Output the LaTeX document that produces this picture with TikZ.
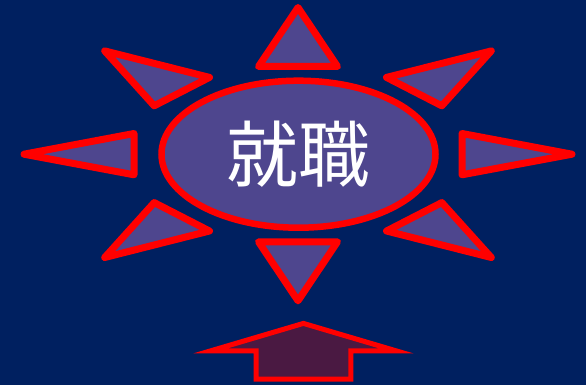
\documentclass[tikz,border=0pt]{standalone}
\usepackage{fontspec}
\newfontfamily\cjk{Noto Sans CJK JP}
\usetikzlibrary{shapes.geometric}
\definecolor{bgblue}{RGB}{0,32,96}
\definecolor{fillpurple}{RGB}{78,70,142}
\definecolor{arrowfill}{RGB}{74,25,66}
\definecolor{brightred}{RGB}{255,0,0}
\tikzset{
  ray/.style={draw=brightred, fill=fillpurple, line width=7pt, line join=round},
  hub/.style={ellipse, draw=brightred, fill=fillpurple, line width=6.5pt, minimum width=274pt, minimum height=147pt, inner sep=0pt, text=white},
  uparrow/.style={draw=brightred, fill=arrowfill, line width=5pt, line join=miter}
}
\begin{document}
\begin{tikzpicture}[x=1pt, y=-1pt]
\fill[bgblue] (0,0) rectangle (586,385);
\useasboundingbox (0,0) rectangle (586,385);
% rays
\draw[ray] (298,7.5) -- (337.5,66.5) -- (258.5,66.5) -- cycle;
\draw[ray] (298,300.8) -- (337.5,241.8) -- (258.5,241.8) -- cycle;
\draw[ray] (24,154.2) -- (134,133.5) -- (134,174.8) -- cycle;
\draw[ray] (572,154.2) -- (462,133.5) -- (462,174.8) -- cycle;
\draw[ray] (104.7,50.9) -- (209.5,77.4) -- (154.2,105.8) -- cycle;
\draw[ray] (491.3,50.9) -- (386.5,77.4) -- (441.8,105.8) -- cycle;
\draw[ray] (104.7,257.5) -- (209.5,231) -- (154.2,202.6) -- cycle;
\draw[ray] (491.3,257.5) -- (386.5,231) -- (441.8,202.6) -- cycle;
% centre
\node[hub] (centre) at (298.5,154.2) {\cjk\fontsize{72}{72}\selectfont 就職};
% bottom arrow
\draw[uparrow] (303.4,323.4) -- (396,350.8) -- (350.8,350.8) -- (350.8,379.2) -- (256,379.2) -- (256,350.8) -- (210.8,350.8) -- cycle;
\end{tikzpicture}
\end{document}
